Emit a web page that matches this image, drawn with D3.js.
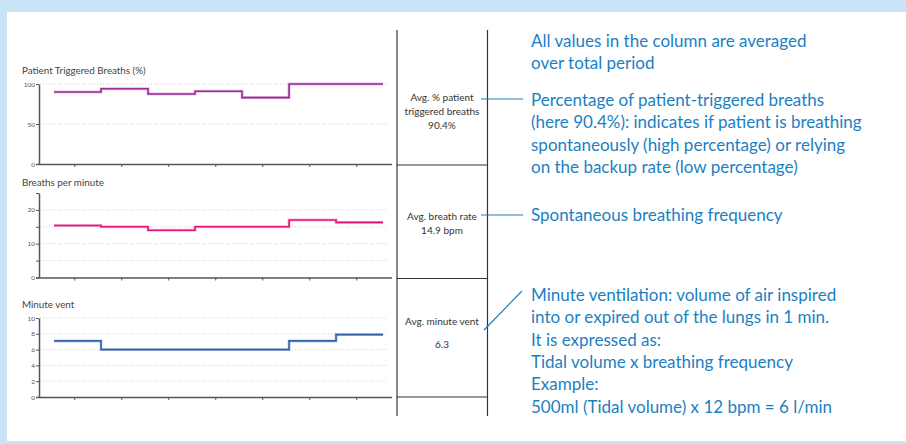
<!DOCTYPE html>
<html>
<head>
<meta charset="utf-8">
<script src="https://cdn.jsdelivr.net/npm/d3@7"></script>
<style>
  body { margin: 0; background: #c8e4f6; }
  .chart-title { font-family: Lato, sans-serif; font-size: 9.8px; fill: #444; }
  .axis text { font-family: Lato, sans-serif; font-size: 6.5px; fill: #555; }
  .axis path, .axis line { stroke: #555; }
  .gridline { stroke: #cfcfcf; stroke-dasharray: 1 2; }
  .cell-text { font-family: Lato, sans-serif; font-size: 10px; fill: #333; }
  .note { font-family: Lato, sans-serif; font-size: 17px; fill: #1b7fc3; }
</style>
</head>
<body>
<div class="viz"></div>
<script>
// 7 periods, one value per period (step chart)
var periods = [0, 1, 2, 3, 4, 5, 6];
var triggeredPct = [90, 94, 87.5, 91, 83, 100, 100];
var breathRate = [15.4, 15.0, 14.0, 15.0, 15.0, 17.0, 16.3];
var minuteVent = [7.1, 6.0, 6.0, 6.0, 6.0, 7.1, 7.9];

var chartTitles = ["Patient Triggered Breaths (%)", "Breaths per minute", "Minute vent"];
var yTicks1 = [0, 50, 100], yLabels1 = [0, 50, 100];
var yTicks2 = [0, 5, 10, 15, 20, 25], yLabels2 = [0, 10, 20];
var yTicks3 = [0, 2, 4, 6, 8, 10], yLabels3 = [0, 2, 4, 6, 8, 10];
var grid1 = [50, 100], grid2 = [5, 10, 15, 20], grid3 = [2, 4, 6, 8, 10];

var avgLines = [
  ["Avg. % patient", "triggered breaths", "90.4%"],
  ["Avg. breath rate", "14.9 bpm"],
  ["Avg. minute vent", "", "6.3"]
];
var notes = [
  ["All values in the column are averaged", "over total period"],
  ["Percentage of patient-triggered breaths", "(here 90.4%): indicates if patient is breathing",
   "spontaneously (high percentage) or relying", "on the backup rate (low percentage)"],
  ["Spontaneous breathing frequency"],
  ["Minute ventilation: volume of air inspired", "into or expired out of the lungs in 1 min.",
   "It is expressed as:", "Tidal volume x breathing frequency", "Example:",
   "500ml (Tidal volume) x 12 bpm = 6 l/min"]
];

var width = 906, height = 444;
var svg = d3.select(".viz").append("svg").attr("width", width).attr("height", height);
svg.append("rect").attr("width", width).attr("height", height).attr("fill", "#c8e4f6");
svg.append("rect").attr("x", 7).attr("y", 12).attr("width", width - 7).attr("height", 429).attr("fill", "#fff");

var x = d3.scaleLinear().domain([-0.32, 7.19]).range([39, 392]);

var charts = [
  { title: chartTitles[0], values: triggeredPct, domain: [0, 100], range: [164, 84], ticks: yTicks1, labels: yLabels1, grid: grid1, color: "#9b2b97", titleY: 74 },
  { title: chartTitles[1], values: breathRate, domain: [0, 25], range: [277.5, 193], ticks: yTicks2, labels: yLabels2, grid: grid2, color: "#e2167f", titleY: 186 },
  { title: chartTitles[2], values: minuteVent, domain: [0, 10], range: [397, 318], ticks: yTicks3, labels: yLabels3, grid: grid3, color: "#3760ad", titleY: 308 }
];

charts.forEach(function (c) {
  var y = d3.scaleLinear().domain(c.domain).range(c.range);
  var g = svg.append("g");

  g.append("text").attr("class", "chart-title").attr("x", 22).attr("y", c.titleY).text(c.title);

  g.selectAll("line.gridline").data(c.grid).enter().append("line")
    .attr("class", "gridline")
    .attr("x1", 40).attr("x2", 388)
    .attr("y1", function (d) { return y(d); }).attr("y2", function (d) { return y(d); });

  g.append("g").attr("class", "axis")
    .attr("transform", "translate(0," + y(0) + ")")
    .call(d3.axisBottom(x).tickValues(periods.map(function (p) { return p + 0.43; })).tickSize(3).tickSizeOuter(0).tickFormat(""))
    .call(function (a) { a.select(".domain").attr("stroke-width", 1.5).attr("d", "M36,0.5H392"); });

  g.append("g").attr("class", "axis")
    .attr("transform", "translate(39,0)")
    .call(d3.axisLeft(y).tickValues(c.ticks).tickSize(3).tickSizeOuter(0)
      .tickFormat(function (d) { return c.labels.indexOf(d) >= 0 ? d : ""; }))
    .call(function (a) { a.select(".domain").attr("stroke-width", 1.5); a.selectAll("text").attr("x", -4); });

  var pts = c.values.map(function (v, i) { return [i, v]; });
  pts.push([c.values.length, c.values[c.values.length - 1]]);
  var line = d3.line().x(function (d) { return x(d[0]); }).y(function (d) { return y(d[1]); }).curve(d3.curveStepAfter);
  g.append("path").datum(pts).attr("d", line).attr("fill", "none")
    .attr("stroke", c.color).attr("stroke-width", 3).attr("stroke-opacity", 0.3);
  g.append("path").datum(pts).attr("d", line).attr("fill", "none")
    .attr("stroke", c.color).attr("stroke-width", 1.6);
});

// averages column
var col = svg.append("g");
col.append("line").attr("x1", 397).attr("x2", 397).attr("y1", 30).attr("y2", 416).attr("stroke", "#888").attr("stroke-width", 2);
col.append("line").attr("x1", 487.5).attr("x2", 487.5).attr("y1", 30).attr("y2", 416).attr("stroke", "#333").attr("stroke-width", 1.2);
[165, 278.5, 397].forEach(function (yy) {
  col.append("line").attr("x1", 397).attr("x2", 487.5).attr("y1", yy).attr("y2", yy).attr("stroke", "#333").attr("stroke-width", 1.2);
});
var cellY = [100.5, 219.5, 325];
avgLines.forEach(function (lines, i) {
  lines.forEach(function (t, j) {
    col.append("text").attr("class", "cell-text").attr("text-anchor", "middle")
      .attr("x", 442).attr("y", cellY[i] + j * (i === 2 ? 11.7 : 14.3)).text(t);
  });
});

// connectors
var conn = svg.append("g").attr("stroke", "#1b7fc3").attr("stroke-width", 1.2);
conn.append("line").attr("x1", 481).attr("x2", 523).attr("y1", 99).attr("y2", 99);
conn.append("line").attr("x1", 481).attr("x2", 523).attr("y1", 215).attr("y2", 215);
conn.append("line").attr("x1", 484).attr("x2", 522).attr("y1", 330).attr("y2", 291);

// notes on the right
var noteY = [46.5, 106, 221, 301];
notes.forEach(function (lines, i) {
  lines.forEach(function (t, j) {
    svg.append("text").attr("class", "note").attr("x", 531).attr("y", noteY[i] + j * 22.3).text(t);
  });
});
</script>
</body>
</html>
